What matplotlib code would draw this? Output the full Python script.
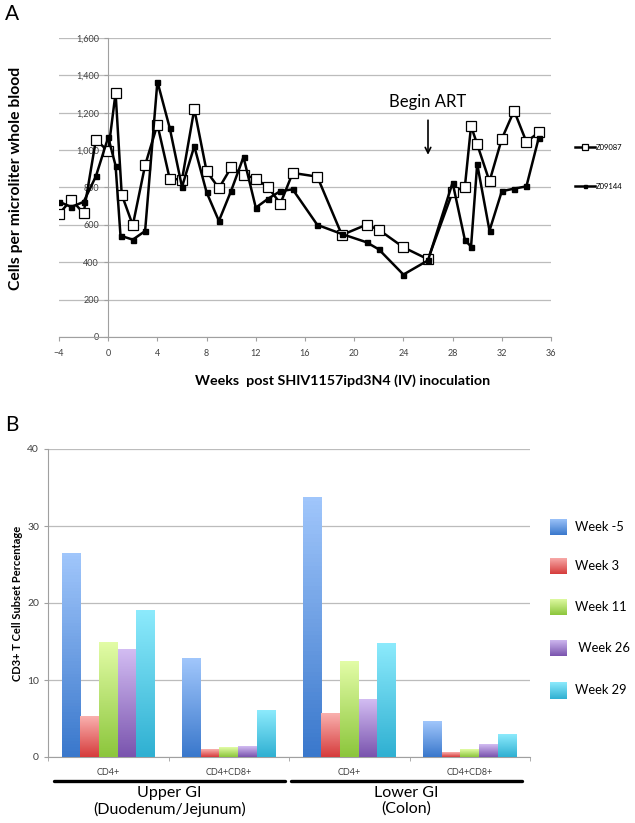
import numpy as np
import matplotlib.pyplot as plt
from matplotlib.ticker import FuncFormatter
from matplotlib.colors import LinearSegmentedColormap
import matplotlib.transforms as mtransforms

plt.rcParams['font.family'] = ['Lato', 'DejaVu Sans']

# ---- panel A: blood counts ----
weeks_z09087 = [-4, -3, -2, -1, 0, 0.6, 1.1, 2, 3, 4, 5, 6, 7, 8, 9, 10, 11, 12, 13, 14,
                15, 17, 19, 21, 22, 24, 26, 28, 29, 29.5, 30, 31, 32, 33, 34, 35]
cells_z09087 = [658, 735, 662, 1056, 994, 1306, 762, 598, 919, 1137, 847, 842, 1220, 887, 796,
                908, 869, 847, 801, 714, 878, 858, 546, 601, 574, 480, 416, 776, 805, 1129,
                1031, 833, 1060, 1211, 1044, 1095]
weeks_z09144 = [-4, -3, -2, -1, 0, 0.6, 1, 2, 3, 4, 5, 6, 7, 8, 9, 10, 11, 12, 13, 14,
                15, 17, 19, 21, 22, 24, 26, 28, 29, 29.5, 30, 31, 32, 33, 34, 35]
cells_z09144 = [724, 696, 723, 860, 1069, 917, 542, 521, 567, 1367, 1119, 803, 1021, 774, 621,
                783, 963, 692, 740, 781, 790, 600, 551, 507, 469, 334, 410, 826, 519, 484,
                926, 569, 780, 794, 806, 1065]
art_week = 26

# ---- panel B: GI tract subsets ----
subsets = ['CD4+', 'CD4+CD8+', 'CD4+', 'CD4+CD8+']
regions = ['Upper GI\n(Duodenum/Jejunum)', 'Lower GI\n(Colon)']
week_labels = ['Week -5', 'Week 3', 'Week 11', ' Week 26', 'Week 29']
wk_m5 = [26.4, 12.8, 33.7, 4.6]
wk_3 = [5.3, 1.0, 5.7, 0.6]
wk_11 = [14.9, 1.2, 12.4, 1.0]
wk_26 = [14.0, 1.4, 7.5, 1.6]
wk_29 = [19.0, 6.1, 14.7, 2.9]

grad_colors = [('#a0c6fb', '#3a78cc'), ('#f9b0ae', '#d63c3c'), ('#e2fca6', '#8cc63c'),
               ('#d2bcf2', '#7a54ae'), ('#8ceafc', '#2fb0d2')]

W, H = 635, 823
fig = plt.figure(figsize=(W / 100, H / 100), dpi=100)

def fx(px):
    return px / W

def fy(px):
    return 1 - px / H

grid_c = '#bcbcbc'
tick_c = '#404040'

# ================= A =================
axA = fig.add_axes([fx(59), fy(337), fx(551 - 59), (337 - 38) / H])
axA.plot(weeks_z09087, cells_z09087, color='black', lw=1.8, marker='s', ms=6.5,
         mfc='white', mec='black', mew=0.9, label='Z09087', zorder=3)
axA.plot(weeks_z09144, cells_z09144, color='black', lw=1.8, marker='s', ms=3.6,
         mfc='black', mec='black', label='Z09144', zorder=4)
axA.set_xlim(-4, 36)
axA.set_ylim(0, 1600)
axA.set_xticks(range(-4, 37, 4))
axA.set_yticks(range(0, 1601, 200))
axA.yaxis.set_major_formatter(FuncFormatter(lambda v, p: f'{int(v):,}'))
axA.grid(axis='y', color=grid_c, lw=0.9)
axA.set_axisbelow(True)
for s in ['top', 'right']:
    axA.spines[s].set_visible(False)
axA.spines['left'].set_position(('data', 0))
axA.spines['left'].set_color('#a0a0a0')
axA.spines['bottom'].set_color('#a0a0a0')
axA.tick_params(axis='both', colors='#a0a0a0', labelcolor=tick_c, labelsize=6.5,
                length=3, width=0.8)
axA.tick_params(axis='x', pad=6)
axA.annotate('', xy=(art_week, 960), xytext=(art_week, 1175),
             arrowprops=dict(arrowstyle='->', lw=1.2, color='black', mutation_scale=10))
axA.text(art_week, 1215, 'Begin ART', ha='center', va='bottom', fontsize=12)
axA.legend(loc='center left', bbox_to_anchor=(fx(571), fy(167)), bbox_transform=fig.transFigure,
           frameon=False, fontsize=5.5, handlelength=2.6, handletextpad=0.1,
           labelspacing=4.2, markerscale=0.6, borderpad=0)

fig.text(fx(12), fy(14), 'A', fontsize=15, ha='center', va='center')
fig.text(fx(16), fy(178), 'Cells per microliter whole blood', rotation=90,
         fontsize=11.3, fontweight='bold', ha='center', va='center')
fig.text(fx(343), fy(381), 'Weeks  post SHIV1157ipd3N4 (IV) inoculation',
         fontsize=10.3, fontweight='bold', ha='center', va='center')

# ================= B =================
axB = fig.add_axes([fx(48), fy(757), fx(530 - 48), (757 - 449) / H])
x = np.arange(len(subsets))
bw = 0.154
series = [wk_m5, wk_3, wk_11, wk_26, wk_29]
grad = np.linspace(0, 1, 64).reshape(-1, 1)
for i, vals in enumerate(series):
    bars = axB.bar(x + (i - 2) * bw, vals, width=bw, color='none', zorder=3)
    cmap = LinearSegmentedColormap.from_list('g%d' % i, [grad_colors[i][1], grad_colors[i][0]])
    for b in bars:
        x0, w, h = b.get_x(), b.get_width(), b.get_height()
        axB.imshow(grad, cmap=cmap, extent=(x0, x0 + w, 0, h), origin='lower',
                   aspect='auto', zorder=3)
axB.set_xlim(-0.5, len(subsets) - 0.5)
axB.set_ylim(0, 40)
axB.set_yticks(range(0, 41, 10))
axB.set_xticks(x)
axB.set_xticklabels(subsets)
axB.set_xticks(np.arange(-0.5, len(subsets), 1), minor=True)
axB.tick_params(axis='x', which='major', length=0, labelsize=6.5, labelcolor=tick_c, pad=8)
axB.tick_params(axis='x', which='minor', length=3, color='#a0a0a0')
axB.tick_params(axis='y', labelsize=7.5, labelcolor=tick_c, color='#a0a0a0', length=3)
axB.grid(axis='y', color=grid_c, lw=0.9)
axB.set_axisbelow(True)
for s in ['top', 'right']:
    axB.spines[s].set_visible(False)
axB.spines['left'].set_color('#a0a0a0')
axB.spines['bottom'].set_color('#a0a0a0')

trans = mtransforms.blended_transform_factory(axB.transData, axB.transAxes)
for (a, b), name in zip([(-0.45, 1.467), (1.517, 3.43)], regions):
    axB.plot([a, b], [-0.078, -0.078], color='black', lw=2.4, transform=trans,
             clip_on=False, solid_capstyle='round')
    axB.text((a + b) / 2, -0.093, name, transform=trans, ha='center', va='top',
             fontsize=11.5, linespacing=1.15)

fig.text(fx(12), fy(425), 'B', fontsize=15, ha='center', va='center')
fig.text(fx(18), fy(603), 'CD3+ T Cell Subset Percentage', rotation=90,
         fontsize=8, fontweight='bold', ha='center', va='center')

# legend B with gradient swatches
leg_y = [527, 566, 607, 648, 690]
for i, lab in enumerate(week_labels):
    cmap = LinearSegmentedColormap.from_list('l%d' % i, [grad_colors[i][1], grad_colors[i][0]])
    sw = fig.add_axes([fx(550), fy(leg_y[i] + 8.5), fx(17), 17 / H])
    sw.imshow(grad, cmap=cmap, origin='lower', aspect='auto')
    sw.axis('off')
    fig.text(fx(575), fy(leg_y[i]), lab, fontsize=9.3, ha='left', va='center')

fig.savefig('out.png', dpi=100)
